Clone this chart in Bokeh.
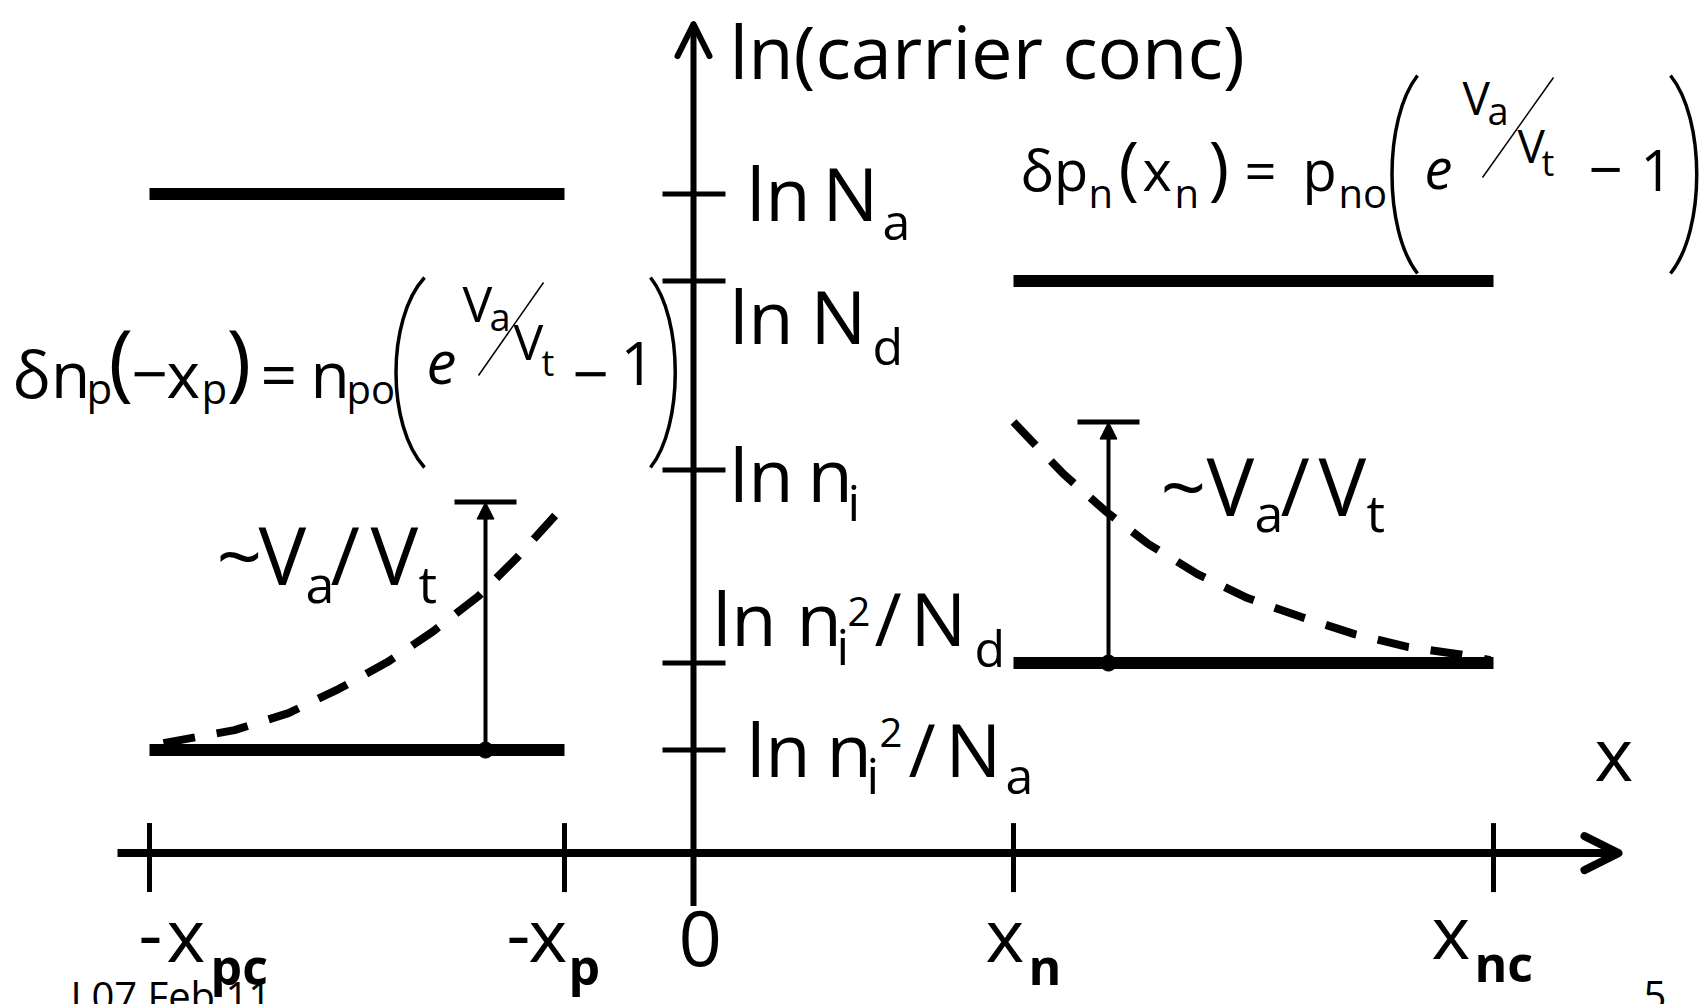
from bokeh.plotting import figure
from bokeh.models import Range1d, ColumnDataSource, Arrow, OpenHead, NormalHead
from bokeh.core.properties import value
from bokeh.embed import file_html
from bokeh.resources import INLINE

# ---- values -------------------------------------------------------------
# positions along x (origin at the metallurgical junction)
x_names = ["-x_pc", "-x_p", "0", "x_n", "x_nc"]
x_pos = [-544, -129, 0, 320, 800]

# ln(carrier concentration) levels marked on the vertical axis
level_names = ["ln Na", "ln Nd", "ln ni", "ln ni²/Nd", "ln ni²/Na"]
level_vals = [659, 572, 383, 190, 103]

# minority electrons on the p side: ln(n) from -x_pc up to -x_p
np_x = [-530, -459, -405, -355, -306, -260, -215, -176, -138, -129]
np_ln = [110, 123, 140, 164, 191, 222, 257, 296, 338, 351]

# minority holes on the n side: ln(p) from x_n out to x_nc
pn_x = [320, 370, 412, 455, 504, 554, 608, 661, 715, 771, 797]
pn_ln = [431, 379, 342, 309, 279, 255, 236, 219, 206, 198, 193]

# where the ~Va/Vt rise is marked on each side
rise_x = [-208, 415]

# ---- canvas -------------------------------------------------------------
W, H = 1703, 1004
X0, Y0 = 693, 852.6          # page position of the origin
FONT = "Open Sans"
INK = "black"
BASE_SHIFT = 0.40            # alphabetic baseline correction, in em

p = figure(width=W, height=H, x_range=Range1d(-X0, W - X0),
           y_range=Range1d(Y0 - H, Y0), output_backend="svg",
           toolbar_location=None, x_axis_location=None, y_axis_location=None,
           min_border=0, background_fill_color="white",
           border_fill_color="white")
p.grid.visible = False
p.outline_line_color = None


def px(x):
    return x - X0


def py(y):
    return Y0 - y


def run(txt, x, y, size, style="normal", font=FONT):
    """Place a text run with its origin at page x and its baseline at page y."""
    p.text(x=[px(x)], y=[py(y) + BASE_SHIFT * size], text=[txt],
           text_font=value(font), text_font_size=value(f"{size}px"),
           text_font_style=style, text_baseline="alphabetic",
           text_align="left", text_color=INK)


# ---- axes ---------------------------------------------------------------
x_axis_left, x_axis_right = -576, 925
y_axis_bottom, y_axis_top = -53, 829

p.add_layout(Arrow(end=OpenHead(size=34, line_width=8, line_color=INK,
                                line_cap="round", line_join="round"),
                   x_start=x_axis_left, y_start=0, x_end=x_axis_right, y_end=0,
                   line_width=8, line_color=INK))
p.add_layout(Arrow(end=OpenHead(size=32, line_width=6, line_color=INK,
                                line_cap="round", line_join="round"),
                   x_start=0, y_start=y_axis_bottom, x_end=0, y_end=y_axis_top,
                   line_width=6, line_color=INK))

tick_x = [x for x in x_pos if x != 0]
p.segment(x0=tick_x, y0=[30] * len(tick_x), x1=tick_x, y1=[-39] * len(tick_x),
          line_width=5, line_color=INK)
p.segment(x0=[-31] * len(level_vals), y0=level_vals,
          x1=[32] * len(level_vals), y1=level_vals, line_width=5, line_color=INK)

# ---- majority / equilibrium minority levels -----------------------------
p.segment(x0=[x_pos[0]] * 2, x1=[x_pos[1]] * 2,
          y0=[level_vals[0], level_vals[4]], y1=[level_vals[0], level_vals[4]],
          line_width=12, line_color=INK)
p.segment(x0=[x_pos[3]] * 2, x1=[x_pos[4]] * 2,
          y0=[level_vals[1], level_vals[3]], y1=[level_vals[1], level_vals[3]],
          line_width=12, line_color=INK)

# ---- injected minority carrier profiles ---------------------------------
p.line(np_x, np_ln, line_width=8, line_color=INK, line_dash="32 22")
p.line(pn_x, pn_ln, line_width=8, line_color=INK, line_dash="32 22")

# ---- ~Va/Vt markers -----------------------------------------------------
rise = ColumnDataSource(dict(x=rise_x,
                             base=[level_vals[4], level_vals[3]],
                             top=[np_ln[-1], pn_ln[0]]))
p.add_layout(Arrow(end=NormalHead(size=17, fill_color=INK, line_color=INK),
                   source=rise, x_start="x", y_start="base", x_end="x",
                   y_end="top", line_width=4, line_color=INK))
p.segment(x0=[x - 31 for x in rise_x], x1=[x + 31 for x in rise_x],
          y0=rise.data["top"], y1=rise.data["top"], line_width=5, line_color=INK)
p.scatter(rise_x, rise.data["base"], size=16, color=INK)

# ---- axis captions ------------------------------------------------------
run("ln(carrier conc)", 729, 80, 74)
run("x", 1594, 782, 74)

# level labels
run("ln", 746, 222, 74); run("N", 822, 222, 74); run("a", 882, 240, 50)
run("ln", 729, 345, 74); run("N", 810, 345, 74); run("d", 872, 365, 50)
run("ln", 729, 503, 74); run("n", 807, 503, 74); run("i", 847, 521, 50)
run("ln", 712, 647, 74); run("n", 796, 647, 74); run("i", 836, 665, 50)
run("2", 847, 627, 40); run("/", 874, 647, 74); run("N", 910, 647, 74)
run("d", 974, 667, 50)
run("ln", 746, 778, 74); run("n", 826, 778, 74); run("i", 866, 794, 50)
run("2", 879, 748, 40); run("/", 908, 778, 74); run("N", 945, 778, 74)
run("a", 1005, 794, 50)

# position labels
run("-", 138, 963, 74); run("x", 166, 963, 74); run("pc", 210, 985, 50, "bold")
run("-", 506, 963, 74); run("x", 528, 963, 74); run("p", 568, 985, 50, "bold")
run("0", 678, 968, 76)
run("x", 985, 963, 74); run("n", 1028, 985, 50, "bold")
run("x", 1431, 960, 74); run("nc", 1474, 982, 50, "bold")

# ~Va/Vt captions
run("~", 216, 585, 80); run("V", 258, 585, 80); run("a", 305, 603, 52)
run("/", 330, 585, 80); run("V", 370, 585, 80); run("t", 418, 603, 52)
run("~", 1160, 516, 80); run("V", 1206, 516, 80); run("a", 1254, 532, 52)
run("/", 1280, 516, 80); run("V", 1318, 516, 80); run("t", 1366, 532, 52)

# ---- boundary conditions ------------------------------------------------
# left: dn_p(-x_p) = n_po (e^(Va/Vt) - 1)
run("δn", 12, 399, 64); run("p", 86, 404, 42)
run("(", 108, 392, 84); run("−", 131, 399, 64); run("x", 166, 399, 64)
run("p", 201, 404, 42); run(")", 226, 392, 84)
run("=", 260, 399, 64); run("n", 310, 399, 64); run("po", 346, 404, 40)
run("e", 426, 386, 60, "italic")
run("V", 462, 322, 50); run("a", 489, 331, 38)
run("V", 513, 360, 50); run("t", 541, 376, 36)
run("−", 572, 399, 64); run("1", 620, 387, 60)

# right: dp_n(x_n) = p_no (e^(Va/Vt) - 1)
run("δp", 1020, 191, 56); run("n", 1088, 208, 40)
run("(", 1118, 192, 70); run("x", 1142, 191, 56); run("n", 1174, 208, 40)
run(")", 1208, 192, 70); run("=", 1244, 191, 56); run("p", 1302, 191, 56)
run("no", 1338, 208, 40)
run("e", 1424, 190, 56, "italic")
run("V", 1462, 115, 46); run("a", 1487, 125, 38)
run("V", 1517, 163, 46); run("t", 1541, 176, 36)
run("−", 1588, 193, 60); run("1", 1640, 192, 56)

# skewed fraction bars in the exponents
p.segment(x0=[px(478), px(1482)], y0=[py(375), py(177)],
          x1=[px(543), px(1553)], y1=[py(282), py(77)],
          line_width=1.5, line_color=INK)


# stretched delimiters around (e^(Va/Vt) - 1)
def paren(xl, xr, top, bot, left=True):
    if left:
        xe, xc = xr, xl - 10
    else:
        xe, xc = xl, xr + 10
    span = bot - top
    p.bezier(x0=[px(xe)], y0=[py(top)], x1=[px(xe)], y1=[py(bot)],
             cx0=[px(xc)], cy0=[py(top + 0.22 * span)],
             cx1=[px(xc)], cy1=[py(bot - 0.22 * span)],
             line_width=3.5, line_color=INK)


paren(396, 424, 277, 467, True)
paren(650, 673, 277, 467, False)
paren(1393, 1417, 75, 273, True)
paren(1670, 1695, 75, 273, False)

# slide footer (runs off the bottom edge of the slide)
run("L07 Feb 11", 70, 1011, 40)
run("5", 1643, 1011, 40)

open("out.html", "w").write(file_html(p, INLINE))
